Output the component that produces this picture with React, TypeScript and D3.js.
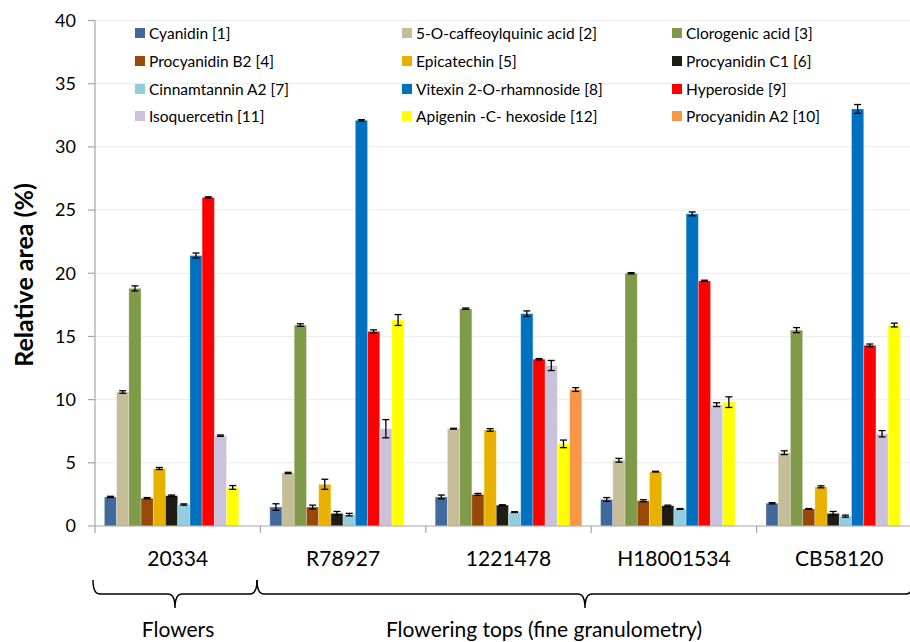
import React from "react";
import * as d3 from "d3";

const categories = ["20334", "R78927", "1221478", "H18001534", "CB58120"];
const seriesNames = [
  "Cyanidin [1]",
  "5-O-caffeoylquinic acid [2]",
  "Clorogenic acid [3]",
  "Procyanidin B2 [4]",
  "Epicatechin [5]",
  "Procyanidin C1 [6]",
  "Cinnamtannin A2 [7]",
  "Vitexin 2-O-rhamnoside [8]",
  "Hyperoside [9]",
  "Isoquercetin [11]",
  "Apigenin -C- hexoside [12]",
  "Procyanidin A2 [10]",
];
const seriesColors = [
  "#41699E", "#C4BD97", "#7F9A48", "#984807", "#E8B000", "#1F1D12",
  "#93CDDD", "#0070C0", "#FF0000", "#CCC1DA", "#FFFF00", "#F79646",
];
// values per series, across categories
const cyanidin = [2.3, 1.5, 2.3, 2.1, 1.8];
const caffeoylquinic = [10.6, 4.2, 7.7, 5.2, 5.8];
const clorogenic = [18.8, 15.9, 17.2, 20.0, 15.5];
const procyanidinB2 = [2.2, 1.5, 2.5, 2.0, 1.35];
const epicatechin = [4.55, 3.3, 7.6, 4.3, 3.1];
const procyanidinC1 = [2.4, 1.0, 1.65, 1.6, 1.0];
const cinnamtannin = [1.7, 0.9, 1.1, 1.35, 0.78];
const vitexin = [21.4, 32.1, 16.8, 24.7, 33.0];
const hyperoside = [26.0, 15.4, 13.2, 19.4, 14.3];
const isoquercetin = [7.15, 7.7, 12.7, 9.6, 7.3];
const apigenin = [3.05, 16.3, 6.5, 9.8, 15.9];
const procyanidinA2 = [0, 0, 10.8, 0, 0];
const errCyanidin = [0.05, 0.26, 0.15, 0.15, 0.05];
const errCaffeoyl = [0.1, 0.05, 0.03, 0.15, 0.15];
const errClorogenic = [0.2, 0.1, 0.05, 0.05, 0.2];
const errB2 = [0.05, 0.15, 0.08, 0.08, 0.03];
const errEpicatechin = [0.08, 0.4, 0.1, 0.03, 0.08];
const errC1 = [0.05, 0.15, 0.03, 0.05, 0.15];
const errCinnam = [0.05, 0.1, 0.03, 0.03, 0.08];
const errVitexin = [0.2, 0.05, 0.22, 0.15, 0.35];
const errHyperoside = [0.05, 0.12, 0.05, 0.05, 0.1];
const errIsoquercetin = [0.05, 0.72, 0.4, 0.15, 0.25];
const errApigenin = [0.15, 0.43, 0.3, 0.42, 0.15];
const errA2 = [0, 0, 0.15, 0, 0];

const values = [cyanidin, caffeoylquinic, clorogenic, procyanidinB2, epicatechin, procyanidinC1,
  cinnamtannin, vitexin, hyperoside, isoquercetin, apigenin, procyanidinA2];
const errors = [errCyanidin, errCaffeoyl, errClorogenic, errB2, errEpicatechin, errC1,
  errCinnam, errVitexin, errHyperoside, errIsoquercetin, errApigenin, errA2];
const yTicks = [0, 5, 10, 15, 20, 25, 30, 35, 40];
const legendOrder = [0, 1, 2, 3, 4, 5, 6, 7, 8, 9, 10, 11];
const groupLabels = ["Flowers", "Flowering tops (fine granulometry)"];

const FONT = "Lato, 'Open Sans', sans-serif";

function bracePath(x1: number, x2: number, xm: number, yTop: number, yMid: number, yBot: number) {
  const r = 7;
  return `M${x1},${yTop} Q${x1},${yMid} ${x1 + r},${yMid} L${xm - r},${yMid} Q${xm},${yMid} ${xm},${yBot}` +
    ` M${xm},${yBot} Q${xm},${yMid} ${xm + r},${yMid} L${x2 - r},${yMid} Q${x2},${yMid} ${x2},${yTop}`;
}

export default function App() {
  const W = 910, H = 642;
  const x0 = d3.scaleBand<string>().domain(categories).range([95, 922]).paddingInner(0).paddingOuter(0);
  const bw = x0.bandwidth();
  const x1 = d3.scaleBand<number>().domain(d3.range(seriesNames.length)).range([9.4, bw - 9.4]).padding(0);
  const y = d3.scaleLinear().domain([0, 40]).range([526, 20.5]);
  const barW = x1.bandwidth();

  const legendCols = [135, 402, 672];
  const legendRows = [33, 61, 89, 116];

  return (
    <svg width={W} height={H} style={{ position: "absolute", left: 0, top: 0, background: "#fff" }} fontFamily={FONT}>
      <rect x={0} y={0} width={W} height={H} fill="#fff" />
      {/* gridlines */}
      {yTicks.filter((t) => t > 0).map((t) => (
        <line key={t} x1={95} x2={W} y1={y(t)} y2={y(t)} stroke="#EBEBEB" strokeWidth={1} />
      ))}
      {/* bars */}
      {values.map((vals, s) =>
        vals.map((v, c) =>
          v > 0 ? (
            <rect key={`${s}-${c}`} x={(x0(categories[c]) as number) + (x1(s) as number)} y={y(v)}
              width={barW} height={y(0) - y(v)} fill={seriesColors[s]}
              stroke="#ffffff" strokeOpacity={0.35} strokeWidth={0.8} />
          ) : null
        )
      )}
      {/* error bars */}
      {values.map((vals, s) =>
        vals.map((v, c) => {
          if (v <= 0) return null;
          const e = errors[s][c];
          const cx = (x0(categories[c]) as number) + (x1(s) as number) + barW / 2;
          const yt = y(v + e), yb = y(v - e);
          return (
            <g key={`e${s}-${c}`} stroke="#000" strokeWidth={1.3}>
              <line x1={cx} x2={cx} y1={yt} y2={yb} />
              <line x1={cx - 3.5} x2={cx + 3.5} y1={yt} y2={yt} />
              <line x1={cx - 3.5} x2={cx + 3.5} y1={yb} y2={yb} />
            </g>
          );
        })
      )}
      {/* axes */}
      <line x1={95} x2={95} y1={y(40)} y2={y(0)} stroke="#A6A6A6" strokeWidth={1.2} />
      <line x1={95} x2={W} y1={y(0)} y2={y(0)} stroke="#A6A6A6" strokeWidth={1.2} />
      {yTicks.map((t) => (
        <g key={`yt${t}`}>
          <line x1={88} x2={95} y1={y(t)} y2={y(t)} stroke="#A6A6A6" strokeWidth={1.2} />
          <text x={76} y={y(t)} dy="0.35em" textAnchor="end" fontSize={18} fill="#000">{t}</text>
        </g>
      ))}
      {categories.map((c) => (
        <line key={`xt${c}`} x1={x0(c) as number} x2={x0(c) as number} y1={y(0)} y2={y(0) + 7} stroke="#A6A6A6" strokeWidth={1.2} />
      ))}
      {categories.map((c) => (
        <text key={`xl${c}`} x={(x0(c) as number) + bw / 2} y={566} textAnchor="middle" fontSize={21} fill="#000">{c}</text>
      ))}
      <text transform={`translate(33,275) rotate(-90)`} textAnchor="middle" fontSize={25} fontWeight="bold" fill="#000">Relative area (%)</text>
      {/* legend */}
      {legendOrder.map((s, i) => {
        const col = i % 3, row = Math.floor(i / 3);
        const lx = legendCols[col], ly = legendRows[row];
        return (
          <g key={`lg${s}`}>
            <rect x={lx} y={ly - 5} width={10} height={10} fill={seriesColors[s]} />
            <text x={lx + 14} y={ly} dy="0.36em" fontSize={15.5} fill="#000">{seriesNames[s]}</text>
          </g>
        );
      })}
      {/* braces */}
      <path d={bracePath(93, 257, 175, 580, 594, 608)} fill="none" stroke="#000" strokeWidth={1.5} />
      <path d={bracePath(257, 913, 585, 580, 594, 608)} fill="none" stroke="#000" strokeWidth={1.5} />
      <text x={178} y={637} textAnchor="middle" fontSize={21} fill="#000">{groupLabels[0]}</text>
      <text x={544} y={637} textAnchor="middle" fontSize={21} fill="#000">{groupLabels[1]}</text>
    </svg>
  );
}
